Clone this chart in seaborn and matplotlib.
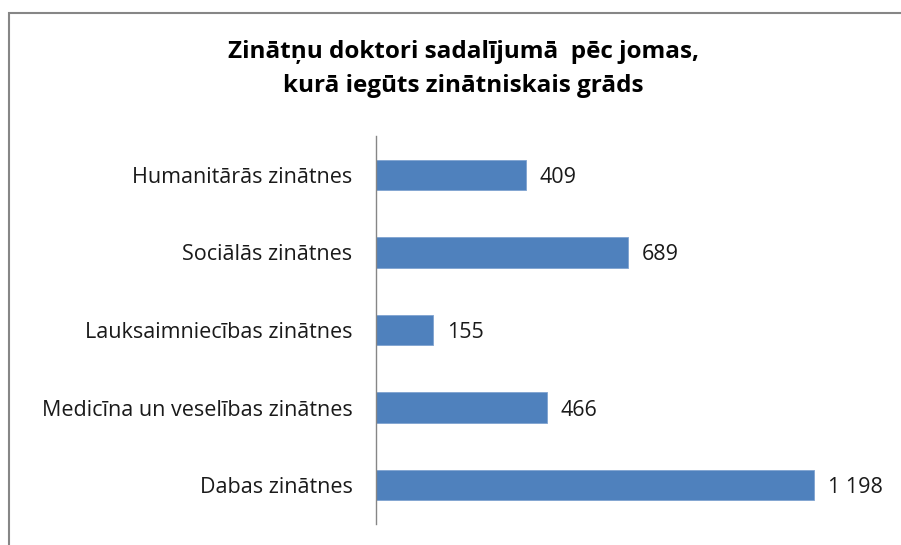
import matplotlib

matplotlib.use("Agg")
import matplotlib.pyplot as plt
import pandas as pd
import seaborn as sns
from matplotlib.patches import Rectangle

categories = [
    "Humanitārās zinātnes",
    "Sociālās zinātnes",
    "Lauksaimniecības zinātnes",
    "Medicīna un veselības zinātnes",
    "Dabas zinātnes",
]
values = [409, 689, 155, 466, 1198]
value_labels = ["409", "689", "155", "466", "1 198"]
title = "Zinātņu doktori sadalījumā  pēc jomas,\nkurā iegūts zinātniskais grāds"

df = pd.DataFrame({"joma": categories, "skaits": values})

sns.set_theme(style="white")
plt.rcParams["font.family"] = ["Open Sans", "DejaVu Sans"]

fig = plt.figure(figsize=(9.01, 5.45), dpi=100)
ax = fig.add_axes([376 / 901, 21 / 545, 494 / 901, 388 / 545])

sns.barplot(data=df, x="skaits", y="joma", orient="h", color="#4F81BD",
            width=0.39, saturation=1, edgecolor="#7FA3D0", linewidth=0.6, ax=ax)

ax.set_xlim(0, 1350)
ax.set_xlabel("")
ax.set_ylabel("")
ax.set_xticks([])
ax.tick_params(axis="y", length=0, pad=17, labelsize=15.5, colors="#1a1a1a")
for side in ("top", "right", "bottom"):
    ax.spines[side].set_visible(False)
ax.spines["left"].set_color("#868686")
ax.spines["left"].set_linewidth(1)

for i, (v, lab) in enumerate(zip(values, value_labels)):
    ax.text(v + 38, i, lab, va="center_baseline", ha="left", fontsize=15.5,
            color="#1a1a1a")

fig.text(463 / 901, 1 - 69 / 545, title, ha="center", va="center",
         fontsize=17.5, fontweight="bold", linespacing=1.55, color="#000000")

# outer chart frame (right and bottom edges fall outside the picture)
fig.patches.append(Rectangle((9 / 901, -0.05), 1.0, 1 - 13 / 545 + 0.05,
                             transform=fig.transFigure, fill=False,
                             edgecolor="#868686", linewidth=1.5))

fig.savefig("out.png", dpi=100)
